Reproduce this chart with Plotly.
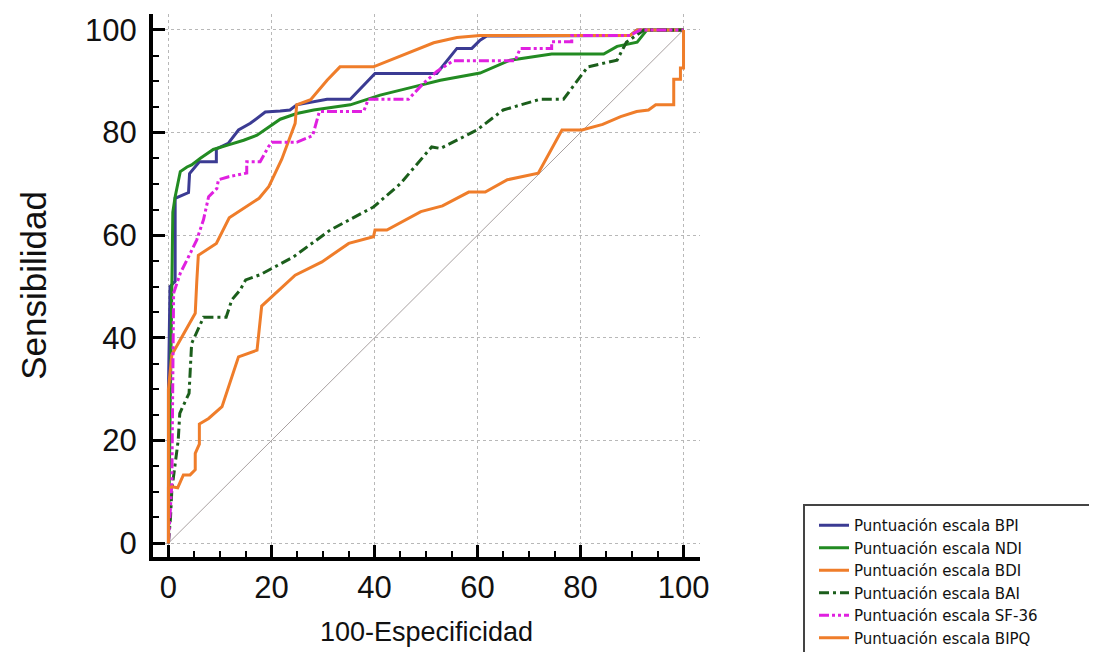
import plotly.graph_objects as go

# ---- data ----
bpi_x = [0, 0, 0.3, 1.3, 1.3, 3.9, 4.1, 6.0, 9.3, 9.3, 11.6, 13.6, 15.9, 18.8, 21.7, 23.6, 24.9, 30.8, 35.3, 40.1, 52.1, 56.0, 58.9, 60.5, 61.8, 89.6, 91.0, 100]
bpi_y = [0, 30, 50, 51, 67.2, 68.3, 72.0, 74.3, 74.3, 76.8, 77.9, 80.5, 81.8, 84.0, 84.2, 84.4, 85.4, 86.5, 86.5, 91.5, 91.5, 96.4, 96.4, 98.0, 98.8, 98.9, 100, 100]

ndi_x = [0, 0.3, 0.66, 0.85, 1.3, 2.3, 3.6, 4.5, 6.2, 8.7, 11.65, 14.6, 17.2, 19.1, 21.7, 24.9, 28.2, 35.3, 41.1, 47.6, 52.8, 60.5, 66.3, 74.4, 84.5, 87.1, 91.0, 92.9, 100]
ndi_y = [0, 20, 50, 64.5, 67.5, 72.4, 73.3, 73.7, 75.0, 76.7, 77.6, 78.5, 79.5, 80.8, 82.6, 83.7, 84.4, 85.4, 87.3, 88.9, 90.2, 91.6, 94.1, 95.3, 95.3, 96.8, 97.6, 100, 100]

bdi_x = [0, 0, 0.66, 5.2, 5.5, 5.8, 9.3, 11.8, 17.6, 19.5, 22.0, 23.6, 24.6, 24.9, 27.6, 30.8, 33.3, 39.8, 46.3, 51.5, 56.0, 60.5, 89.6, 91.0, 100]
bdi_y = [0, 30, 36.7, 44.8, 51.0, 56.1, 58.4, 63.4, 67.2, 69.5, 74.8, 79.2, 81.8, 85.4, 86.4, 90.2, 92.8, 92.8, 95.4, 97.5, 98.5, 98.9, 98.9, 100, 100]

bai_x = [0, 0.4, 0.66, 1.3, 1.9, 2.2, 4.0, 4.5, 6.5, 6.8, 11.2, 12.3, 13.9, 15.0, 17.8, 24.3, 31.4, 39.8, 45.0, 51.1, 52.8, 59.9, 65.0, 72.2, 76.7, 81.4, 87.1, 88.9, 92.3, 100]
bai_y = [0, 5, 10.4, 15.6, 20.1, 25.3, 29.2, 38.9, 43.6, 44.0, 44.0, 47.4, 49.3, 51.3, 52.3, 55.8, 61.0, 65.5, 70.0, 77.2, 76.9, 80.5, 84.4, 86.5, 86.5, 92.8, 94.1, 97.6, 100, 100]

sf36_x = [0, 0.3, 0.66, 1.0, 2.3, 3.9, 5.5, 6.8, 7.8, 9.4, 9.7, 11.7, 15.2, 15.2, 17.8, 19.4, 20.1, 24.9, 28.0, 29.3, 37.9, 38.8, 46.6, 49.5, 52.1, 55.3, 67.3, 68.3, 74.4, 74.4, 78.3, 78.3, 89.6, 91.6, 100]
sf36_y = [0, 5.2, 11.7, 48.7, 52.6, 55.8, 59.1, 63.0, 67.5, 69.1, 70.8, 71.4, 72.1, 74.3, 74.3, 77.2, 78.1, 78.1, 79.4, 84.1, 84.1, 86.5, 86.5, 89.6, 91.9, 94.0, 94.0, 96.4, 96.4, 97.7, 97.7, 98.9, 98.9, 100, 100]

bipq_x = [0, 0, 0.66, 1.8, 2.9, 4.2, 5.2, 5.2, 6.0, 6.0, 7.8, 10.4, 13.6, 17.2, 18.1, 20.1, 24.6, 29.8, 35.0, 39.8, 40.1, 42.4, 49.0, 53.2, 58.3, 61.5, 65.8, 71.8, 76.4, 80.3, 84.3, 87.8, 90.9, 93.2, 94.6, 98.1, 98.1, 99.4, 99.4, 100, 100]
bipq_y = [0, 10.7, 11.0, 10.8, 13.3, 13.3, 14.3, 17.5, 19.3, 23.2, 24.3, 26.6, 36.3, 37.6, 46.2, 48.0, 52.2, 54.8, 58.4, 59.7, 61.0, 61.0, 64.6, 65.7, 68.4, 68.4, 70.8, 72.1, 80.5, 80.5, 81.6, 83.1, 84.1, 84.4, 85.4, 85.4, 90.4, 90.4, 92.6, 92.6, 100]

ref_x = [0, 100]
ref_y = [0, 100]

names = ["Puntuación escala BPI", "Puntuación escala NDI", "Puntuación escala BDI",
         "Puntuación escala BAI", "Puntuación escala SF-36", "Puntuación escala BIPQ"]

tick_vals = [0, 20, 40, 60, 80, 100]
tick_text = ["0", "20", "40", "60", "80", "100"]

FONT = "Liberation Sans, Arial, sans-serif"
ORANGE = "#ef7d2a"

# figure is drawn 8px smaller than the window because the page body has an 8px margin
W, H = 1089, 644
L, R, T, B = 145, 397, 6, 95
PW, PH = W - L - R, H - T - B


def px_x(p):
    return (p - L) / PW


def px_y(p):
    return (H - B - p) / PH


fig = go.Figure()
fig.add_trace(go.Scatter(x=ref_x, y=ref_y, mode="lines", showlegend=False,
                         line=dict(color="#a8a0a0", width=1), hoverinfo="skip"))

series = [
    (bpi_x, bpi_y, names[0], "#3b3b93", "solid"),
    (ndi_x, ndi_y, names[1], "#228b22", "solid"),
    (bdi_x, bdi_y, names[2], ORANGE, "solid"),
    (bai_x, bai_y, names[3], "#1b5e1b", "10px,4px,3px,4px"),
    (sf36_x, sf36_y, names[4], "#e020e0", "10px,3px,3px,3px,3px,3px"),
    (bipq_x, bipq_y, names[5], ORANGE, "solid"),
]
for xs, ys, nm, col, dash in series:
    fig.add_trace(go.Scatter(x=xs, y=ys, mode="lines", name=nm,
                             line=dict(color=col, width=3, dash=dash)))

axis_common = dict(
    showline=True, linewidth=4, linecolor="black",
    ticks="inside", ticklen=12, tickwidth=3, tickcolor="black",
    tickvals=tick_vals, ticktext=tick_text,
    tickfont=dict(family=FONT, size=31, color="#111"),
    showgrid=True, gridcolor="#b8b8b8", gridwidth=1, griddash="dot",
    zeroline=False, automargin=False,
    minor=dict(ticks="inside", ticklen=6, tickwidth=2, tickcolor="black", dtick=5, showgrid=False),
)

fig.update_xaxes(range=[-3, 103.2], title=dict(text="100-Especificidad", font=dict(family=FONT, size=27, color="#111"), standoff=19),
                 ticklabelstandoff=0, **axis_common)
fig.update_yaxes(range=[-2.7, 103.1], title=dict(text="Sensibilidad", font=dict(family=FONT, size=35, color="#111"), standoff=29),
                 ticklabelstandoff=6, **axis_common)

# legend frame (extends past the page edge as in the reference)
fig.add_shape(type="rect", xref="paper", yref="paper",
              x0=px_x(796), x1=1.9, y0=-1.0, y1=px_y(497),
              line=dict(color="#444", width=2), fillcolor="white", layer="below")

fig.update_layout(
    width=W, height=H,
    margin=dict(l=L, r=R, t=T, b=B, autoexpand=False),
    paper_bgcolor="white", plot_bgcolor="white",
    font=dict(family=FONT, color="#111"),
    legend=dict(x=px_x(806), y=px_y(501), xanchor="left", yanchor="top",
                font=dict(family="DejaVu Sans, Liberation Sans, sans-serif", size=15, color="#111"),
                bgcolor="rgba(0,0,0,0)", borderwidth=0, tracegroupgap=0),
)

fig.write_html("out.html")
